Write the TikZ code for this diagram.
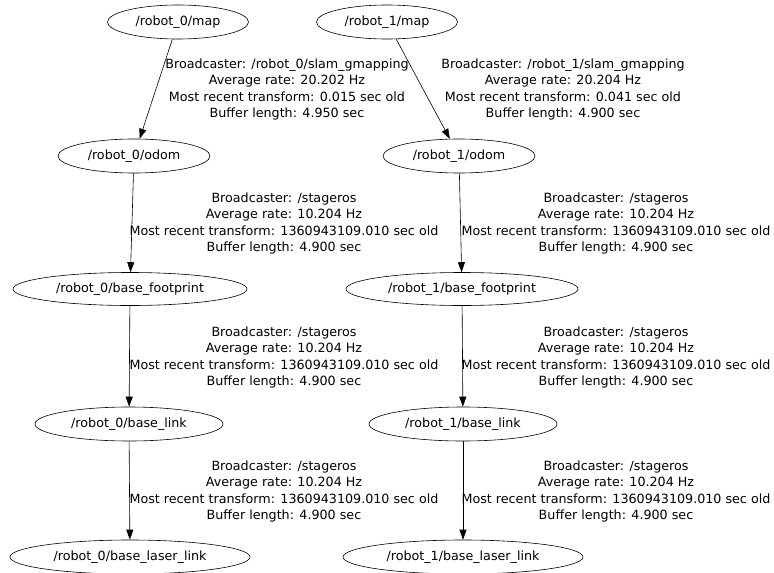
\documentclass[tikz,border=0pt]{standalone}
\usepackage{fontspec}
\setmainfont{DejaVu Sans}
\usetikzlibrary{arrows.meta,shapes.geometric}
\begin{document}
\begin{tikzpicture}[x=1pt,y=-1pt,
  frame/.style={draw, ellipse, line width=0.6pt, inner sep=0pt, font=\fontsize{12.7pt}{15pt}\selectfont},
  info/.style={align=center, inner sep=0pt, font=\fontsize{12.7pt}{16.6pt}\selectfont},
  tf/.style={draw, line width=0.6pt, -{Triangle[length=10pt,width=7pt]}}]
\useasboundingbox (0,0) rectangle (774,573);
% robot_0 tree
\node[frame, minimum width=141pt, minimum height=34pt] (m0) at (178,22) {/robot\_0/map};
\node[frame, minimum width=152pt, minimum height=34pt] (o0) at (134,156) {/robot\_0/odom};
\node[frame, minimum width=234pt, minimum height=33pt] (f0) at (130,289) {/robot\_0/base\_footprint};
\node[frame, minimum width=188pt, minimum height=34pt] (b0) at (129,424) {/robot\_0/base\_link};
\node[frame, minimum width=240pt, minimum height=34pt] (l0) at (130,557) {/robot\_0/base\_laser\_link};
% robot_1 tree
\node[frame, minimum width=141pt, minimum height=34pt] (m1) at (387,22) {/robot\_1/map};
\node[frame, minimum width=152pt, minimum height=34pt] (o1) at (459,156) {/robot\_1/odom};
\node[frame, minimum width=232pt, minimum height=33pt] (f1) at (462,289) {/robot\_1/base\_footprint};
\node[frame, minimum width=188pt, minimum height=34pt] (b1) at (463,424) {/robot\_1/base\_link};
\node[frame, minimum width=240pt, minimum height=34pt] (l1) at (463,557) {/robot\_1/base\_laser\_link};
% transforms
\draw[tf] (m0) -- (o0);
\draw[tf] (o0) -- (f0);
\draw[tf] (f0) -- (b0);
\draw[tf] (b0) -- (l0);
\draw[tf] (m1) -- (o1);
\draw[tf] (o1) -- (f1);
\draw[tf] (f1) -- (b1);
\draw[tf] (b1) -- (l1);
% edge labels
\node[info] (t0a) at (287,89.5) {Broadcaster: /robot\_0/slam\_gmapping\\Average rate: 20.202 Hz\\Most recent transform: 0.015 sec old\\Buffer length: 4.950 sec};
\node[info] (t1a) at (563,89.5) {Broadcaster: /robot\_1/slam\_gmapping\\Average rate: 20.204 Hz\\Most recent transform: 0.041 sec old\\Buffer length: 4.900 sec};
\node[info] (t0b) at (284,223.5) {Broadcaster: /stageros\\Average rate: 10.204 Hz\\Most recent transform: 1360943109.010 sec old\\Buffer length: 4.900 sec};
\node[info] (t1b) at (616,223.5) {Broadcaster: /stageros\\Average rate: 10.204 Hz\\Most recent transform: 1360943109.010 sec old\\Buffer length: 4.900 sec};
\node[info] (t0c) at (284,357.5) {Broadcaster: /stageros\\Average rate: 10.204 Hz\\Most recent transform: 1360943109.010 sec old\\Buffer length: 4.900 sec};
\node[info] (t1c) at (616,357.5) {Broadcaster: /stageros\\Average rate: 10.204 Hz\\Most recent transform: 1360943109.010 sec old\\Buffer length: 4.900 sec};
\node[info] (t0d) at (284,491.5) {Broadcaster: /stageros\\Average rate: 10.204 Hz\\Most recent transform: 1360943109.010 sec old\\Buffer length: 4.900 sec};
\node[info] (t1d) at (616,491.5) {Broadcaster: /stageros\\Average rate: 10.204 Hz\\Most recent transform: 1360943109.010 sec old\\Buffer length: 4.900 sec};
\end{tikzpicture}
\end{document}
